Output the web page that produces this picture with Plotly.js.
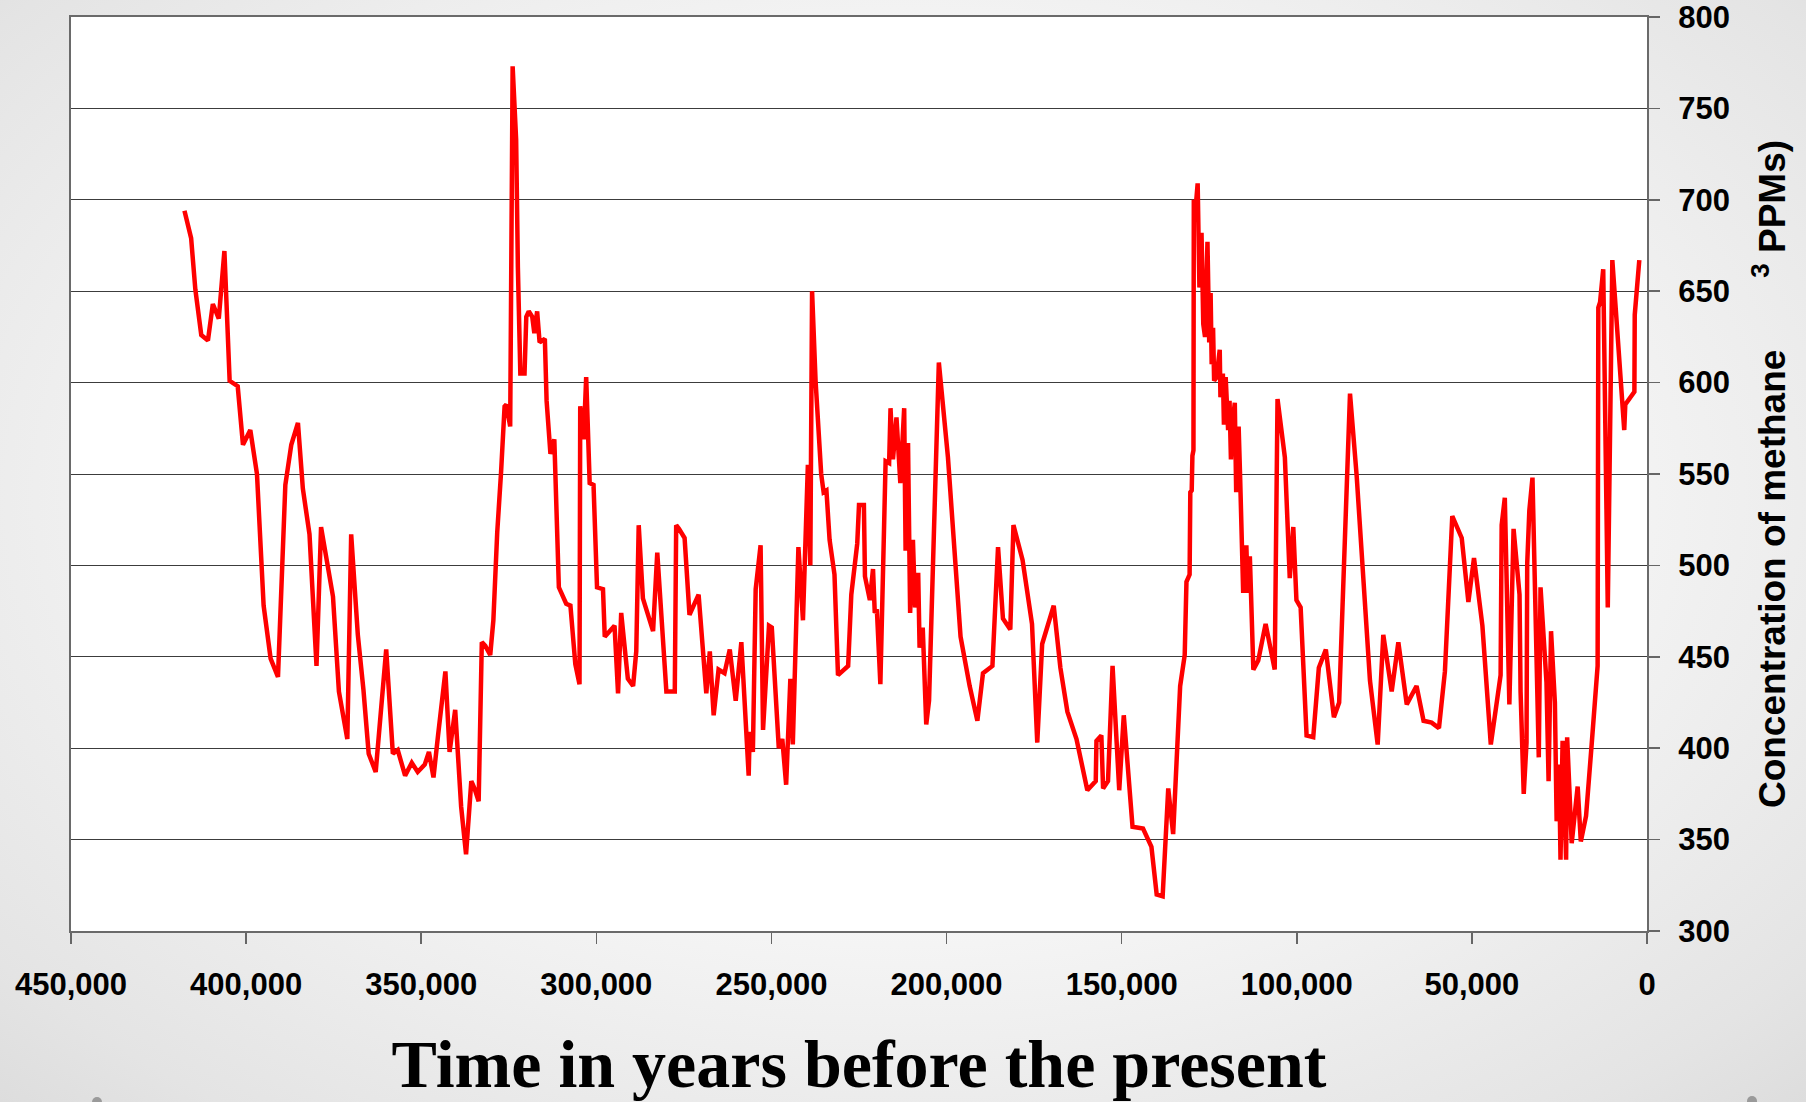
<!DOCTYPE html>
<html>
<head>
<meta charset="utf-8">
<script src="https://cdn.plot.ly/plotly-3.0.1.min.js"></script>
<style>
  html, body { margin: 0; padding: 0; width: 1806px; height: 1102px; overflow: hidden; }
  body { background: radial-gradient(ellipse 80% 85% at 50% 45%, #ffffff 0%, #f8f8f8 40%, #e4e4e4 80%, #d6d6d6 100%); }
  #chart { width: 1806px; height: 1102px; }
</style>
</head>
<body>
<div id="chart"></div>
<script>
// Years before present (Vostok-style methane record)
var yearsBP = [
  417600, 415700, 414500, 412800, 410900, 409500, 407800, 406200, 404700, 402400,
  400900, 398800, 396900, 395000, 393000, 390900, 388800, 387100, 385200, 383800,
  381900, 379900, 378600, 375200, 373500, 371100, 370000, 368100, 366500, 365000,
  363000, 360000, 358100, 356700, 354600, 352700, 351000, 349000, 347800, 346500,
  345200, 343100, 341900, 340300, 338600, 337200, 335700, 334800, 333600, 332700,
  331700, 330300, 329400, 328300, 327200, 326200, 325700, 324600, 323900, 322900,
  322400, 321700, 320500, 320000, 319300, 318300, 317700, 316900, 316200, 314700,
  314200, 313100, 312000, 311400, 310700, 308600, 307400, 306000, 304800, 304600,
  303600, 302900, 301900, 300800, 299800, 298100, 297600, 296200, 294800, 293800,
  292900, 291000, 289500, 288600, 287900, 286700, 283800, 282600, 280000, 277600,
  277200, 276400, 274800, 273400, 270800, 268600, 267600, 266500, 265100, 263400,
  261900, 260200, 258600, 256500, 256200, 255300, 254500, 253100, 252400, 250700,
  249900, 247900, 246900, 245800, 244600, 243900, 242300, 241000, 239600, 238900,
  238400, 237400, 235800, 235100, 234300, 233400, 232000, 231000, 228100, 227200,
  225500, 225000, 223600, 223300, 221900, 221000, 220500, 219900, 218900, 217400,
  216400, 216000, 215300, 214300, 213200, 212100, 211700, 211000, 210400, 209600,
  209000, 208100, 207700, 206800, 205800, 205000, 202200, 199600, 196000, 193400,
  191200, 189600, 186900, 185300, 183900, 181800, 180900, 178300, 175600, 174100,
  172700, 169400, 167500, 165500, 162900, 159800, 157400, 157200, 155800, 155300,
  153900, 152600, 150700, 149400, 146900, 143900, 141500, 140000, 138300, 136700,
  135300, 133300, 132000, 131500, 130600, 130400, 130000, 129800, 129500, 129400,
  128900, 128300, 127800, 127200, 126700, 126200, 125500, 125000, 124600, 124300,
  123900, 123600, 122900, 122000, 121800, 121100, 120800, 120300, 119600, 119200,
  118800, 118200, 117700, 117300, 116600, 116200, 115700, 115300, 114400, 114000,
  113400, 112400, 111000, 108900, 106300, 105500, 103400, 102000, 101000, 100100,
  98900, 97200, 95300, 93700, 91700, 89400, 87900, 84800, 82900, 79100,
  76900, 75300, 72900, 71000, 68600, 65800, 63800, 61500, 59400, 57700,
  55600, 52900, 51000, 49400, 47000, 44600, 41800, 41500, 40600, 39300,
  38100, 36400, 36100, 35200, 34400, 34200, 33600, 32700, 30900, 30400,
  28700, 28100, 27400, 26300, 25800, 25100, 24700, 24100, 23100, 22800,
  21500, 19800, 18900, 17400, 15800, 14100, 13900, 13400, 12500, 11200,
  9900, 6500, 6200, 3600, 3500, 2200
];

// Methane concentration (10^-3 ppm, i.e. ppb)
var methane = [
  694, 679, 651, 626, 623, 643, 635, 672, 601, 598,
  566, 574, 550, 478, 449, 439, 544, 566, 578, 542,
  517, 445, 521, 483, 431, 405, 517, 462, 432, 397,
  387, 454, 397, 399, 385, 392, 387, 391, 398, 384,
  407, 442, 398, 421, 368, 342, 382, 378, 371, 458,
  456, 451, 470, 518, 551, 587, 588, 576, 773, 733,
  663, 605, 605, 636, 639, 636, 627, 639, 622, 624,
  590, 561, 569, 524, 488, 479, 478, 446, 435, 587,
  569, 603, 545, 544, 488, 487, 461, 464, 467, 430,
  474, 438, 434, 453, 522, 482, 464, 507, 431, 431,
  522, 520, 515, 473, 484, 430, 453, 418, 443, 441,
  454, 426, 458, 385, 409, 398, 487, 511, 410, 467,
  466, 400, 405, 380, 438, 402, 510, 470, 555, 500,
  650, 601, 550, 540, 541, 514, 495, 440, 445, 484,
  512, 533, 533, 494, 481, 498, 474, 476, 435, 557,
  556, 586, 558, 581, 545, 586, 508, 567, 474, 514,
  477, 496, 455, 466, 413, 426, 611, 559, 461, 434,
  415, 441, 445, 510, 471, 465, 522, 503, 468, 403,
  457, 478, 444, 420, 405, 377, 382, 404, 407, 378,
  382, 445, 377, 418, 357, 356, 346, 320, 319, 378,
  353, 434, 451, 491, 495, 540, 541, 560, 563, 700,
  695, 709, 652, 682, 632, 625, 677, 622, 649, 610,
  630, 601, 603, 618, 592, 605, 577, 603, 574, 590,
  558, 580, 589, 540, 576, 550, 511, 485, 511, 485,
  505, 443, 448, 468, 443, 591, 559, 493, 521, 481,
  477, 407, 406, 444, 454, 417, 425, 594, 549, 437,
  402, 462, 431, 458, 424, 434, 415, 414, 411, 442,
  527, 515, 480, 504, 467, 402, 440, 522, 537, 424,
  520, 484, 431, 375, 403, 501, 530, 548, 395, 488,
  436, 382, 464, 425, 360, 391, 339, 404, 339, 406,
  348, 379, 349, 363, 402, 445, 641, 644, 662, 477,
  667, 574, 588, 595, 637, 667
];

var xTickValues = [450000, 400000, 350000, 300000, 250000, 200000, 150000, 100000, 50000, 0];
var yTickValues = [300, 350, 400, 450, 500, 550, 600, 650, 700, 750, 800];
var xTitleText = 'Time in years before the present';
var yTitleText = 'Concentration of methane' + '\u00a0\u00a0\u00a0\u00a0\u00a0\u00a0\u00a0' + '<sup>3</sup> PPMs)';

var sansBold = { family: 'Liberation Sans, Arial, sans-serif', size: 31, color: '#000000', weight: 'bold' };

var trace = {
  type: 'scatter',
  mode: 'lines',
  x: yearsBP,
  y: methane,
  line: { color: '#ff0000', width: 4.5 },
  hoverinfo: 'x+y'
};

var layout = {
  width: 1806,
  height: 1102,
  margin: { l: 71, r: 159, t: 17, b: 171, pad: 0 },
  paper_bgcolor: 'rgba(0,0,0,0)',
  plot_bgcolor: '#ffffff',
  showlegend: false,
  xaxis: {
    range: [450000, 0],
    tickmode: 'array',
    tickvals: xTickValues,
    tickformat: ',d',
    ticks: 'outside',
    ticklen: 11,
    tickwidth: 1.5,
    tickcolor: '#666666',
    ticklabelstandoff: 14,
    ticklabeloverflow: 'allow',
    showline: true,
    linecolor: '#6a6a6a',
    linewidth: 2,
    mirror: true,
    showgrid: false,
    zeroline: false,
    tickfont: sansBold,
    title: {
      text: xTitleText,
      font: { family: 'Liberation Serif, Times New Roman, serif', size: 68, color: '#000000', weight: 'bold' },
      standoff: 40
    }
  },
  yaxis: {
    side: 'right',
    range: [300, 800],
    tickmode: 'array',
    tickvals: yTickValues,
    ticks: 'outside',
    ticklen: 11,
    tickwidth: 1.5,
    tickcolor: '#666666',
    ticklabelstandoff: 12,
    ticklabeloverflow: 'allow',
    showline: true,
    linecolor: '#6a6a6a',
    linewidth: 2,
    mirror: true,
    showgrid: true,
    gridcolor: '#3c3c3c',
    gridwidth: 1,
    zeroline: false,
    tickfont: sansBold,
    title: {
      text: yTitleText,
      font: { family: 'Liberation Sans, Arial, sans-serif', size: 37, color: '#000000', weight: 'bold' },
      standoff: 30
    }
  },
  shapes: [
    { type: 'circle', xref: 'paper', yref: 'paper', x0: (92 - 71) / 1576, x1: (102 - 71) / 1576,
      y0: (931 - 1107) / 914, y1: (931 - 1097) / 914, fillcolor: '#9a9a9a', line: { width: 0 } },
    { type: 'circle', xref: 'paper', yref: 'paper', x0: (1747 - 71) / 1576, x1: (1757 - 71) / 1576,
      y0: (931 - 1106) / 914, y1: (931 - 1096) / 914, fillcolor: '#9a9a9a', line: { width: 0 } }
  ]
};

Plotly.newPlot('chart', [trace], layout, { displayModeBar: false, staticPlot: true });
</script>
</body>
</html>
